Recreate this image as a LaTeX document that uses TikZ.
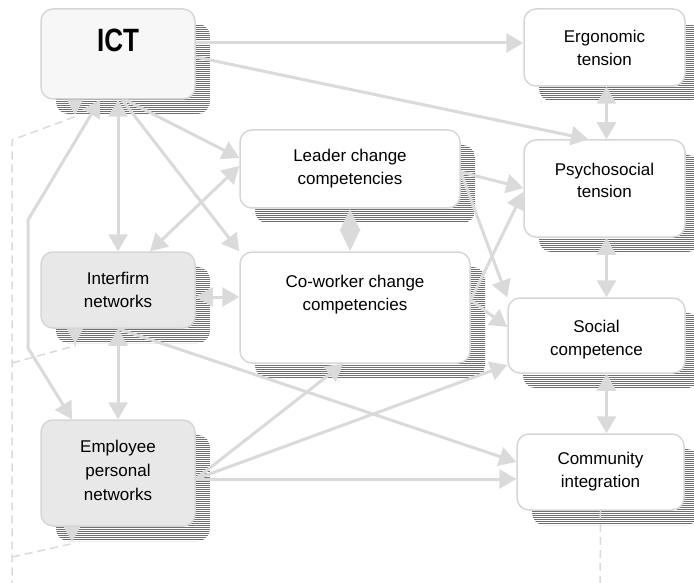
\documentclass[tikz,border=0pt]{standalone}
\usepackage{fontspec}
\usepackage{graphicx}
\setmainfont{Liberation Sans}
\usetikzlibrary{arrows.meta,shadows,patterns.meta}

\definecolor{boxline}{HTML}{D6D6D6}
\definecolor{linkgray}{HTML}{DADADA}
\definecolor{hatch}{HTML}{707070}
\definecolor{netfill}{HTML}{E8E8E8}
\definecolor{ictfill}{HTML}{F7F7F7}

\tikzset{
	factor/.style={draw=boxline, line width=1.5pt, rounded corners=12pt, fill=white,
		align=center, inner ysep=0pt, font=\fontsize{17}{23}\selectfont,
		drop shadow={shadow xshift=15pt, shadow yshift=-15pt, opacity=1,
			pattern={Lines[angle=0, distance=2pt, line width=0.75pt]}, pattern color=hatch}},
	link/.style={draw=linkgray, line width=3pt, line join=round, >={Triangle[length=17pt, width=19pt]}},
	feedback/.style={draw=linkgray, line width=1.5pt, dash pattern=on 8pt off 5pt,
		-{Triangle[reversed, length=15pt, width=16pt]}}
}

\begin{document}
\begin{tikzpicture}[x=1pt, y=-1pt]
	\useasboundingbox (0,0) rectangle (694,583);
	
	% Factors
	\node[factor, fill=ictfill, minimum width=154pt, text height=43pt, text depth=47pt, font=\fontsize{26}{30}\selectfont\bfseries] (ict) at (118,54) {\scalebox{1}[1.24]{ICT}};
	\node[factor, minimum width=161pt, minimum height=77pt] (ergo) at (604.5,47.5) {Ergonomic\\tension};
	\node[factor, minimum width=220pt, minimum height=78pt] (leader) at (350,169) {Leader change\\competencies};
	\node[factor, minimum width=161pt, text height=58pt, text depth=39pt] (psycho) at (604.5,188.5) {Psychosocial\\tension};
	\node[factor, fill=netfill, minimum width=154pt, minimum height=76pt] (inter) at (118,290) {Interfirm\\networks};
	\node[factor, minimum width=230pt, text height=58pt, text depth=53pt] (cowork) at (355,307.5) {Co-worker change\\competencies};
	\node[factor, minimum width=177pt, text height=57pt, text depth=18pt] (social) at (596.5,335.5) {Social\\competence};
	\node[factor, fill=netfill, minimum width=154pt, text height=80pt, text depth=26pt, font=\fontsize{17}{24}\selectfont] (employee) at (118,473) {Employee\\personal\\networks};
	\node[factor, minimum width=167pt, minimum height=76pt] (commint) at (600.5,472) {Community\\integration};
	
	% Feedback loop
	\coordinate (loopright) at (600,600);
	\coordinate (loopleft) at (12,600);
	\coordinate (loopict) at (12,140);
	\coordinate (loopinter) at (12,363);
	\coordinate (loopemp) at (12,557);
	\draw[feedback] (commint.south) -- (loopright) -- (loopleft) -- (loopict) -- ([xshift=-43pt, yshift=-17pt]ict.south) -- ([xshift=-43pt]ict.south);
	\draw[feedback] (loopinter) -- ([xshift=-43pt, yshift=-17pt]inter.south) -- ([xshift=-43pt]inter.south);
	\draw[feedback] (loopemp) -- ([xshift=-46pt, yshift=-17pt]employee.south) -- ([xshift=-46pt]employee.south);
	
	% ICT links
	\draw[link, ->] ([yshift=11pt]ict.east) -- ([yshift=4.5pt]ergo.west);
	\draw[link, ->] ([yshift=-3pt]ict.east) -- ([xshift=-16.5pt]psycho.north);
	\draw[link, <->] (ict.south) -- (inter.north);
	\draw[link, ->] ([xshift=7pt]ict.south) -- ([yshift=11pt]leader.west);
	\draw[link, ->] ([xshift=4pt]ict.south) -- (cowork.north west);
	\coordinate (bendtop) at (28,220);
	\coordinate (bendlow) at (28,348);
	\draw[link, <->] ([xshift=-18pt]ict.south) -- (bendtop) -- (bendlow) -- ([xshift=-46pt]employee.north);
	
	% Change competencies
	\draw[link, <->] ([yshift=3pt]leader.west) -- ([xshift=32pt]inter.north);
	\draw[link, {Triangle[length=22pt, width=20pt]}-{Triangle[length=22pt, width=20pt]}] (leader.south) -- (leader.south |- cowork.north);
	\draw[link, <->] ([yshift=-7pt]inter.east) -- ([yshift=10.5pt]cowork.west);
	\draw[link, ->] ([yshift=-3pt]leader.east) -- ([yshift=0.5pt]psycho.west);
	\draw[link, ->] ([yshift=-3pt]leader.east) -- (social.north west);
	\draw[link, ->] ([yshift=7.5pt]cowork.east) -- ([yshift=-3.5pt]psycho.west);
	\draw[link, ->] ([yshift=7.5pt]cowork.east) -- ([yshift=8.5pt]social.west);
	
	% Networks
	\draw[link, <->] (inter.south) -- (employee.north);
	\draw[link, ->] (inter.south) -- ([yshift=10pt]commint.west);
	\draw[link, ->] ([yshift=-6pt]employee.east) -- ([xshift=-12pt]cowork.south);
	\draw[link, ->] ([yshift=-6pt]employee.east) -- ([yshift=-29.5pt]social.west);
	\draw[link, ->] ([yshift=-6pt]employee.east) -- ([yshift=-7pt]commint.west);
	
	% Tension and integration
	\draw[link, <->] ([xshift=2pt]ergo.south) -- ([xshift=2pt]psycho.north);
	\draw[link, <->] ([xshift=2pt]psycho.south) -- ([xshift=10pt]social.north);
	\draw[link, <->] ([xshift=10pt]social.south) -- ([xshift=6pt]commint.north);
\end{tikzpicture}
\end{document}
